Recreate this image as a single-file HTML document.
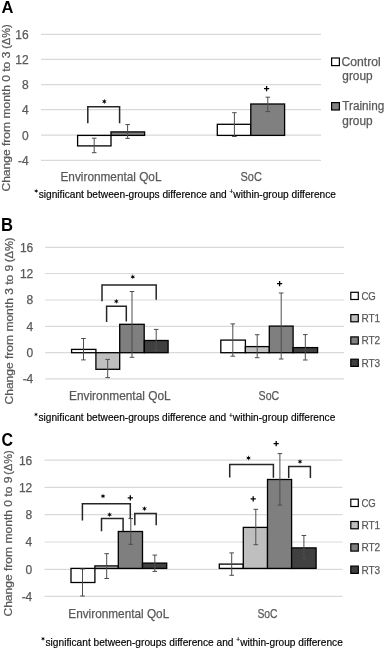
<!DOCTYPE html>
<html><head><meta charset="utf-8"><style>
html,body{margin:0;padding:0;background:#fff;width:386px;height:648px;overflow:hidden}
svg{display:block;font-family:"Liberation Sans", sans-serif;will-change:transform}
text.g{stroke:#595959;stroke-width:0.25px}
</style></head><body>
<svg width="386" height="648" viewBox="0 0 386 648">
<text x="1.6" y="12.6" font-size="16.5" fill="#000" text-anchor="start" font-weight="bold" >A</text>
<line x1="41" y1="34.3" x2="321" y2="34.3" stroke="#d9d9d9" stroke-width="1.2"/>
<line x1="41" y1="59.4" x2="321" y2="59.4" stroke="#d9d9d9" stroke-width="1.2"/>
<line x1="41" y1="84.6" x2="321" y2="84.6" stroke="#d9d9d9" stroke-width="1.2"/>
<line x1="41" y1="109.6" x2="321" y2="109.6" stroke="#d9d9d9" stroke-width="1.2"/>
<line x1="41" y1="135.2" x2="321" y2="135.2" stroke="#d9d9d9" stroke-width="1.2"/>
<line x1="41" y1="160.4" x2="321" y2="160.4" stroke="#d9d9d9" stroke-width="1.2"/>
<text class="g" x="28.6" y="38.6" font-size="12" fill="#595959" text-anchor="end" font-weight="normal" >16</text>
<text class="g" x="28.6" y="63.7" font-size="12" fill="#595959" text-anchor="end" font-weight="normal" >12</text>
<text class="g" x="28.6" y="88.9" font-size="12" fill="#595959" text-anchor="end" font-weight="normal" >8</text>
<text class="g" x="28.6" y="113.9" font-size="12" fill="#595959" text-anchor="end" font-weight="normal" >4</text>
<text class="g" x="28.6" y="139.5" font-size="12" fill="#595959" text-anchor="end" font-weight="normal" >0</text>
<text class="g" x="28.6" y="164.7" font-size="12" fill="#595959" text-anchor="end" font-weight="normal" >-4</text>
<text class="g" transform="translate(9.7,191.55) rotate(-90)" x="0" y="0" font-size="11.2" fill="#595959" textLength="139.9" lengthAdjust="spacingAndGlyphs">Change from month 0 to 3</text>
<text class="g" transform="translate(9.7,48.7) rotate(-90)" x="0" y="0" font-size="11.2" fill="#595959" textLength="24.4" lengthAdjust="spacingAndGlyphs">(Δ%)</text>
<rect x="77.6" y="135.4" width="33.4" height="10.5" fill="#fff" stroke="#000" stroke-width="1.3"/>
<rect x="111" y="131.9" width="33.6" height="3.5" fill="#808080" stroke="#000" stroke-width="1.3"/>
<rect x="217.3" y="124.3" width="33.5" height="11.1" fill="#fff" stroke="#000" stroke-width="1.3"/>
<rect x="250.8" y="104.0" width="33.8" height="31.4" fill="#808080" stroke="#000" stroke-width="1.3"/>
<path d="M94.2 138.2V152.7M91.9 138.2H96.5M91.9 152.7H96.5" stroke="#4d4d4d" stroke-width="1.0" fill="none"/>
<path d="M127.6 124.6V138.4M125.3 124.6H129.9M125.3 138.4H129.9" stroke="#4d4d4d" stroke-width="1.0" fill="none"/>
<path d="M234.4 112.7V136.5M232.1 112.7H236.70000000000002M232.1 136.5H236.70000000000002" stroke="#4d4d4d" stroke-width="1.0" fill="none"/>
<path d="M267.8 97.2V111.6M265.5 97.2H270.1M265.5 111.6H270.1" stroke="#4d4d4d" stroke-width="1.0" fill="none"/>
<path d="M87.8 123.3V106.8H119.6V123.2" stroke="#262626" stroke-width="1.5" fill="none"/>
<polygon points="104.30,98.80 104.83,100.59 106.64,100.15 105.35,101.50 106.64,102.85 104.83,102.41 104.30,104.20 103.77,102.41 101.96,102.85 103.25,101.50 101.96,100.15 103.77,100.59" fill="#000"/>
<path d="M264.0 88.6H269.20000000000005M266.6 86.0V91.19999999999999" stroke="#000" stroke-width="1.3"/>
<rect x="331.6" y="58.0" width="7.8" height="7.6" fill="#fff" stroke="#000" stroke-width="1.2"/>
<rect x="331.6" y="102.6" width="7.8" height="7.4" fill="#808080" stroke="#000" stroke-width="1.2"/>
<text class="g" x="341.5" y="65.6" font-size="12" fill="#595959" text-anchor="start" font-weight="normal" textLength="39.2" lengthAdjust="spacingAndGlyphs" >Control</text>
<text class="g" x="342.3" y="80.3" font-size="12" fill="#595959" text-anchor="start" font-weight="normal" textLength="30.3" lengthAdjust="spacingAndGlyphs" >group</text>
<text class="g" x="342.3" y="109.9" font-size="12" fill="#595959" text-anchor="start" font-weight="normal" textLength="42" lengthAdjust="spacingAndGlyphs" >Training</text>
<text class="g" x="342.3" y="125.4" font-size="12" fill="#595959" text-anchor="start" font-weight="normal" textLength="30.3" lengthAdjust="spacingAndGlyphs" >group</text>
<text class="g" x="60.5" y="181.2" font-size="12.6" fill="#595959" text-anchor="start" font-weight="normal" textLength="101.0" lengthAdjust="spacingAndGlyphs" >Environmental QoL</text>
<text class="g" x="240.5" y="181.3" font-size="12.6" fill="#595959" text-anchor="start" font-weight="normal" textLength="21.3" lengthAdjust="spacingAndGlyphs" >SoC</text>
<polygon points="36.20,188.80 36.65,190.22 38.11,189.90 37.10,191.00 38.11,192.10 36.65,191.78 36.20,193.20 35.75,191.78 34.29,192.10 35.30,191.00 34.29,189.90 35.75,190.22" fill="#000"/>
<text x="38.70" y="197.9" font-size="11" fill="#000" stroke="#000" stroke-width="0.18" textLength="297.30" lengthAdjust="spacingAndGlyphs">significant between-groups difference and <tspan font-size="7" dy="-3.5">+</tspan><tspan dy="3.5">within-group difference</tspan></text>
<text transform="translate(1.1,231.1) scale(0.95,1)" font-size="17.5" font-weight="bold" fill="#000">B</text>
<line x1="45.1" y1="247.3" x2="343.9" y2="247.3" stroke="#d9d9d9" stroke-width="1.2"/>
<line x1="45.1" y1="273.5" x2="343.9" y2="273.5" stroke="#d9d9d9" stroke-width="1.2"/>
<line x1="45.1" y1="300.0" x2="343.9" y2="300.0" stroke="#d9d9d9" stroke-width="1.2"/>
<line x1="45.1" y1="326.4" x2="343.9" y2="326.4" stroke="#d9d9d9" stroke-width="1.2"/>
<line x1="45.1" y1="352.7" x2="343.9" y2="352.7" stroke="#d9d9d9" stroke-width="1.2"/>
<line x1="45.1" y1="378.9" x2="343.9" y2="378.9" stroke="#d9d9d9" stroke-width="1.2"/>
<text class="g" x="33.3" y="251.6" font-size="12" fill="#595959" text-anchor="end" font-weight="normal" >16</text>
<text class="g" x="33.3" y="277.8" font-size="12" fill="#595959" text-anchor="end" font-weight="normal" >12</text>
<text class="g" x="33.3" y="304.3" font-size="12" fill="#595959" text-anchor="end" font-weight="normal" >8</text>
<text class="g" x="33.3" y="330.7" font-size="12" fill="#595959" text-anchor="end" font-weight="normal" >4</text>
<text class="g" x="33.3" y="357.0" font-size="12" fill="#595959" text-anchor="end" font-weight="normal" >0</text>
<text class="g" x="33.3" y="383.2" font-size="12" fill="#595959" text-anchor="end" font-weight="normal" >-4</text>
<text class="g" transform="translate(12.9,404.45) rotate(-90)" x="0" y="0" font-size="11.2" fill="#595959" textLength="139.7" lengthAdjust="spacingAndGlyphs">Change from month 3 to 9</text>
<text class="g" transform="translate(12.9,262.3) rotate(-90)" x="0" y="0" font-size="11.2" fill="#595959" textLength="24.9" lengthAdjust="spacingAndGlyphs">(Δ%)</text>
<rect x="71.6" y="349.4" width="24.3" height="3.3" fill="#fff" stroke="#000" stroke-width="1.3"/>
<rect x="95.9" y="352.7" width="23.8" height="16.6" fill="#bfbfbf" stroke="#000" stroke-width="1.3"/>
<rect x="119.7" y="324.3" width="24.5" height="28.4" fill="#7f7f7f" stroke="#000" stroke-width="1.3"/>
<rect x="144.4" y="340.5" width="23.7" height="12.2" fill="#404040" stroke="#000" stroke-width="1.3"/>
<rect x="220.8" y="340.1" width="24.6" height="12.6" fill="#fff" stroke="#000" stroke-width="1.3"/>
<rect x="245.4" y="346.6" width="23.9" height="6.1" fill="#bfbfbf" stroke="#000" stroke-width="1.3"/>
<rect x="269.3" y="326.1" width="23.8" height="26.6" fill="#7f7f7f" stroke="#000" stroke-width="1.3"/>
<rect x="293.1" y="347.6" width="24.5" height="5.1" fill="#404040" stroke="#000" stroke-width="1.3"/>
<path d="M83.5 338.5V359.9M81.2 338.5H85.8M81.2 359.9H85.8" stroke="#4d4d4d" stroke-width="1.0" fill="none"/>
<path d="M107.7 359.4V377.6M105.4 359.4H110.0M105.4 377.6H110.0" stroke="#4d4d4d" stroke-width="1.0" fill="none"/>
<path d="M132.0 291.5V357.3M129.7 291.5H134.3M129.7 357.3H134.3" stroke="#4d4d4d" stroke-width="1.0" fill="none"/>
<path d="M156.2 329.4V350.5M153.89999999999998 329.4H158.5M153.89999999999998 350.5H158.5" stroke="#4d4d4d" stroke-width="1.0" fill="none"/>
<path d="M232.8 323.9V356.2M230.5 323.9H235.10000000000002M230.5 356.2H235.10000000000002" stroke="#4d4d4d" stroke-width="1.0" fill="none"/>
<path d="M257.2 334.7V357.7M254.89999999999998 334.7H259.5M254.89999999999998 357.7H259.5" stroke="#4d4d4d" stroke-width="1.0" fill="none"/>
<path d="M281.2 293.0V359.0M278.9 293.0H283.5M278.9 359.0H283.5" stroke="#4d4d4d" stroke-width="1.0" fill="none"/>
<path d="M305.3 334.6V360.0M303.0 334.6H307.6M303.0 360.0H307.6" stroke="#4d4d4d" stroke-width="1.0" fill="none"/>
<path d="M102.0 301.2V285.0H156.2V299.8" stroke="#262626" stroke-width="1.5" fill="none"/>
<polygon points="132.80,274.10 133.33,275.89 135.14,275.45 133.85,276.80 135.14,278.15 133.33,277.71 132.80,279.50 132.28,277.71 130.46,278.15 131.75,276.80 130.46,275.45 132.28,275.89" fill="#000"/>
<path d="M106.6 322.0V306.3H126.3V321.4" stroke="#262626" stroke-width="1.5" fill="none"/>
<polygon points="116.30,298.60 116.83,300.39 118.64,299.95 117.35,301.30 118.64,302.65 116.83,302.21 116.30,304.00 115.77,302.21 113.96,302.65 115.25,301.30 113.96,299.95 115.77,300.39" fill="#000"/>
<path d="M277.0 283.7H282.20000000000005M279.6 281.09999999999997V286.3" stroke="#000" stroke-width="1.3"/>
<rect x="350.8" y="292.3" width="7.5" height="7.2" fill="#fff" stroke="#000" stroke-width="1.2"/>
<text class="g" x="361.4" y="299.6" font-size="11.3" fill="#595959" text-anchor="start" font-weight="normal" textLength="14.4" lengthAdjust="spacingAndGlyphs" >CG</text>
<rect x="350.8" y="314.6" width="7.5" height="7.2" fill="#bfbfbf" stroke="#000" stroke-width="1.2"/>
<text class="g" x="361.4" y="321.9" font-size="11.3" fill="#595959" text-anchor="start" font-weight="normal" textLength="18.8" lengthAdjust="spacingAndGlyphs" >RT1</text>
<rect x="350.8" y="336.90000000000003" width="7.5" height="7.2" fill="#7f7f7f" stroke="#000" stroke-width="1.2"/>
<text class="g" x="361.4" y="344.2" font-size="11.3" fill="#595959" text-anchor="start" font-weight="normal" textLength="18.8" lengthAdjust="spacingAndGlyphs" >RT2</text>
<rect x="350.8" y="359.20000000000005" width="7.5" height="7.2" fill="#404040" stroke="#000" stroke-width="1.2"/>
<text class="g" x="361.4" y="366.5" font-size="11.3" fill="#595959" text-anchor="start" font-weight="normal" textLength="18.8" lengthAdjust="spacingAndGlyphs" >RT3</text>
<text class="g" x="69.0" y="400.0" font-size="12.3" fill="#595959" text-anchor="start" font-weight="normal" textLength="101.6" lengthAdjust="spacingAndGlyphs" >Environmental QoL</text>
<text class="g" x="258.6" y="400.1" font-size="12.3" fill="#595959" text-anchor="start" font-weight="normal" textLength="20.6" lengthAdjust="spacingAndGlyphs" >SoC</text>
<polygon points="36.00,412.30 36.45,413.72 37.91,413.40 36.90,414.50 37.91,415.60 36.45,415.28 36.00,416.70 35.55,415.28 34.09,415.60 35.10,414.50 34.09,413.40 35.55,413.72" fill="#000"/>
<text x="38.50" y="421.4" font-size="11" fill="#000" stroke="#000" stroke-width="0.18" textLength="296.80" lengthAdjust="spacingAndGlyphs">significant between-groups difference and <tspan font-size="7" dy="-3.5">+</tspan><tspan dy="3.5">within-group difference</tspan></text>
<text transform="translate(1.4,446.2) scale(0.91,1)" font-size="17.5" font-weight="bold" fill="#000">C</text>
<line x1="44.6" y1="460.2" x2="342.4" y2="460.2" stroke="#d9d9d9" stroke-width="1.2"/>
<line x1="44.6" y1="487.4" x2="342.4" y2="487.4" stroke="#d9d9d9" stroke-width="1.2"/>
<line x1="44.6" y1="514.6" x2="342.4" y2="514.6" stroke="#d9d9d9" stroke-width="1.2"/>
<line x1="44.6" y1="542.0" x2="342.4" y2="542.0" stroke="#d9d9d9" stroke-width="1.2"/>
<line x1="44.6" y1="569.3" x2="342.4" y2="569.3" stroke="#d9d9d9" stroke-width="1.2"/>
<line x1="44.6" y1="596.4" x2="342.4" y2="596.4" stroke="#d9d9d9" stroke-width="1.2"/>
<text class="g" x="32.3" y="464.5" font-size="12" fill="#595959" text-anchor="end" font-weight="normal" >16</text>
<text class="g" x="32.3" y="491.7" font-size="12" fill="#595959" text-anchor="end" font-weight="normal" >12</text>
<text class="g" x="32.3" y="518.9" font-size="12" fill="#595959" text-anchor="end" font-weight="normal" >8</text>
<text class="g" x="32.3" y="546.3" font-size="12" fill="#595959" text-anchor="end" font-weight="normal" >4</text>
<text class="g" x="32.3" y="573.6" font-size="12" fill="#595959" text-anchor="end" font-weight="normal" >0</text>
<text class="g" x="32.3" y="600.7" font-size="12" fill="#595959" text-anchor="end" font-weight="normal" >-4</text>
<text class="g" transform="translate(11.9,616.55) rotate(-90)" x="0" y="0" font-size="11.2" fill="#595959" textLength="140.0" lengthAdjust="spacingAndGlyphs">Change from month 0 to 9</text>
<text class="g" transform="translate(11.9,474.7) rotate(-90)" x="0" y="0" font-size="11.2" fill="#595959" textLength="24.3" lengthAdjust="spacingAndGlyphs">(Δ%)</text>
<rect x="71.0" y="568.4" width="23.9" height="14.1" fill="#fff" stroke="#000" stroke-width="1.3"/>
<rect x="94.9" y="565.9" width="23.4" height="2.5" fill="#bfbfbf" stroke="#000" stroke-width="1.3"/>
<rect x="118.3" y="531.5" width="24.2" height="36.9" fill="#7f7f7f" stroke="#000" stroke-width="1.3"/>
<rect x="142.5" y="563.1" width="24.2" height="5.3" fill="#404040" stroke="#000" stroke-width="1.3"/>
<rect x="219.3" y="564.1" width="23.9" height="4.3" fill="#fff" stroke="#000" stroke-width="1.3"/>
<rect x="243.3" y="527.4" width="24.2" height="41.0" fill="#bfbfbf" stroke="#000" stroke-width="1.3"/>
<rect x="267.5" y="479.5" width="24.1" height="88.9" fill="#7f7f7f" stroke="#000" stroke-width="1.3"/>
<rect x="291.6" y="547.9" width="24.5" height="20.5" fill="#404040" stroke="#000" stroke-width="1.3"/>
<path d="M82.5 569.0V596.0M80.2 569.0H84.8M80.2 596.0H84.8" stroke="#4d4d4d" stroke-width="1.0" fill="none"/>
<path d="M106.7 553.7V578.5M104.4 553.7H109.0M104.4 578.5H109.0" stroke="#4d4d4d" stroke-width="1.0" fill="none"/>
<path d="M130.8 518.6V544.3M128.5 518.6H133.10000000000002M128.5 544.3H133.10000000000002" stroke="#4d4d4d" stroke-width="1.0" fill="none"/>
<path d="M154.8 555.1V571.4M152.5 555.1H157.10000000000002M152.5 571.4H157.10000000000002" stroke="#4d4d4d" stroke-width="1.0" fill="none"/>
<path d="M231.7 552.9V575.3M229.39999999999998 552.9H234.0M229.39999999999998 575.3H234.0" stroke="#4d4d4d" stroke-width="1.0" fill="none"/>
<path d="M255.8 509.3V544.7M253.5 509.3H258.1M253.5 544.7H258.1" stroke="#4d4d4d" stroke-width="1.0" fill="none"/>
<path d="M279.9 453.6V505.1M277.59999999999997 453.6H282.2M277.59999999999997 505.1H282.2" stroke="#4d4d4d" stroke-width="1.0" fill="none"/>
<path d="M303.9 535.5V558.5M301.59999999999997 535.5H306.2M301.59999999999997 558.5H306.2" stroke="#4d4d4d" stroke-width="1.0" fill="none"/>
<path d="M82.4 520.6V503.8H130.3V518.6" stroke="#262626" stroke-width="1.5" fill="none"/>
<polygon points="103.00,493.40 103.53,495.19 105.34,494.75 104.05,496.10 105.34,497.45 103.53,497.01 103.00,498.80 102.47,497.01 100.66,497.45 101.95,496.10 100.66,494.75 102.47,495.19" fill="#000"/>
<path d="M127.70000000000002 497.9H132.9M130.3 495.29999999999995V500.5" stroke="#000" stroke-width="1.3"/>
<path d="M101.5 531.2V518.5H123.1V531.2" stroke="#262626" stroke-width="1.5" fill="none"/>
<polygon points="109.60,511.90 110.12,513.69 111.94,513.25 110.65,514.60 111.94,515.95 110.12,515.51 109.60,517.30 109.07,515.51 107.26,515.95 108.55,514.60 107.26,513.25 109.07,513.69" fill="#000"/>
<path d="M134.8 525.2V513.5H156.2V525.2" stroke="#262626" stroke-width="1.5" fill="none"/>
<polygon points="144.50,506.00 145.03,507.79 146.84,507.35 145.55,508.70 146.84,510.05 145.03,509.61 144.50,511.40 143.97,509.61 142.16,510.05 143.45,508.70 142.16,507.35 143.97,507.79" fill="#000"/>
<path d="M229.7 477.4V464.6H273.4V477.8" stroke="#262626" stroke-width="1.5" fill="none"/>
<polygon points="248.50,455.30 249.03,457.09 250.84,456.65 249.55,458.00 250.84,459.35 249.03,458.91 248.50,460.70 247.97,458.91 246.16,459.35 247.45,458.00 246.16,456.65 247.97,457.09" fill="#000"/>
<path d="M288.7 477.9V466.4H310.4V478.1" stroke="#262626" stroke-width="1.5" fill="none"/>
<polygon points="300.00,459.00 300.52,460.79 302.34,460.35 301.05,461.70 302.34,463.05 300.52,462.61 300.00,464.40 299.48,462.61 297.66,463.05 298.95,461.70 297.66,460.35 299.48,460.79" fill="#000"/>
<path d="M250.6 498.8H255.79999999999998M253.2 496.2V501.40000000000003" stroke="#000" stroke-width="1.3"/>
<path d="M273.59999999999997 443.7H278.8M276.2 441.09999999999997V446.3" stroke="#000" stroke-width="1.3"/>
<rect x="350.8" y="499.2" width="7.5" height="7.3" fill="#fff" stroke="#000" stroke-width="1.2"/>
<text class="g" x="361.4" y="506.8" font-size="11.3" fill="#595959" text-anchor="start" font-weight="normal" textLength="14.4" lengthAdjust="spacingAndGlyphs" >CG</text>
<rect x="350.8" y="521.5" width="7.5" height="7.3" fill="#bfbfbf" stroke="#000" stroke-width="1.2"/>
<text class="g" x="361.4" y="529.1" font-size="11.3" fill="#595959" text-anchor="start" font-weight="normal" textLength="18.8" lengthAdjust="spacingAndGlyphs" >RT1</text>
<rect x="350.8" y="543.8" width="7.5" height="7.3" fill="#7f7f7f" stroke="#000" stroke-width="1.2"/>
<text class="g" x="361.4" y="551.4" font-size="11.3" fill="#595959" text-anchor="start" font-weight="normal" textLength="18.8" lengthAdjust="spacingAndGlyphs" >RT2</text>
<rect x="350.8" y="566.1" width="7.5" height="7.3" fill="#404040" stroke="#000" stroke-width="1.2"/>
<text class="g" x="361.4" y="573.7" font-size="11.3" fill="#595959" text-anchor="start" font-weight="normal" textLength="18.8" lengthAdjust="spacingAndGlyphs" >RT3</text>
<text class="g" x="68.3" y="617.9" font-size="12.4" fill="#595959" text-anchor="start" font-weight="normal" textLength="100.9" lengthAdjust="spacingAndGlyphs" >Environmental QoL</text>
<text class="g" x="257.4" y="617.9" font-size="12.4" fill="#595959" text-anchor="start" font-weight="normal" textLength="20.2" lengthAdjust="spacingAndGlyphs" >SoC</text>
<polygon points="43.00,636.50 43.45,637.92 44.91,637.60 43.90,638.70 44.91,639.80 43.45,639.48 43.00,640.90 42.55,639.48 41.09,639.80 42.10,638.70 41.09,637.60 42.55,637.92" fill="#000"/>
<text x="45.50" y="645.6" font-size="11" fill="#000" stroke="#000" stroke-width="0.18" textLength="297.30" lengthAdjust="spacingAndGlyphs">significant between-groups difference and <tspan font-size="7" dy="-3.5">+</tspan><tspan dy="3.5">within-group difference</tspan></text>
</svg>
</body></html>
